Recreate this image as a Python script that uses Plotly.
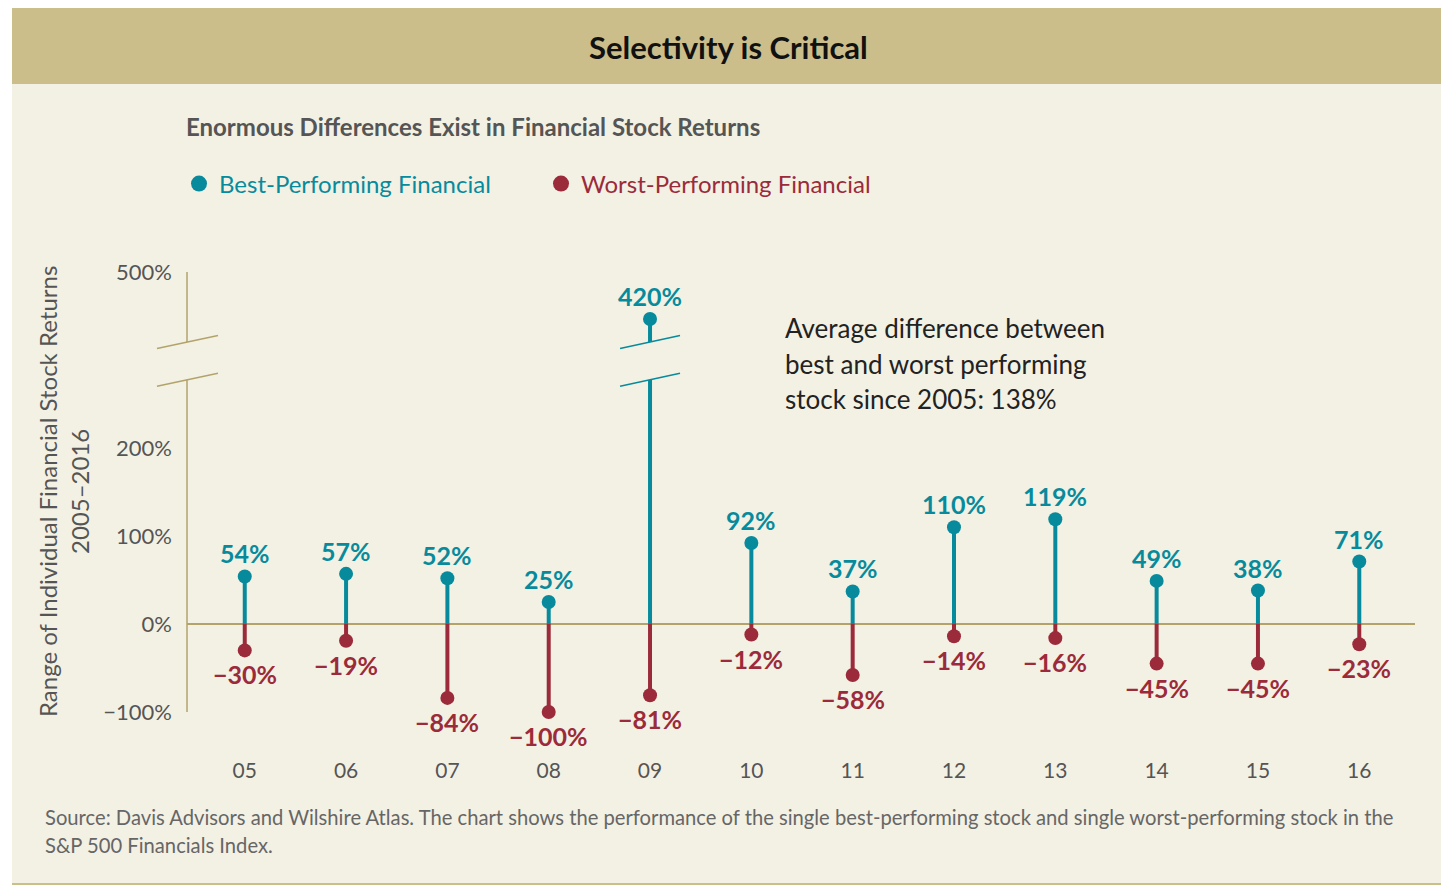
import plotly.graph_objects as go

# data
years = ["05", "06", "07", "08", "09", "10", "11", "12", "13", "14", "15", "16"]
best = [54, 57, 52, 25, 420, 92, 37, 110, 119, 49, 38, 71]
worst = [-30, -19, -84, -100, -81, -12, -58, -14, -16, -45, -45, -23]
tick_vals = [-100, 0, 100, 200, 500]
tick_text = ["\u2212100%", "0%", "100%", "200%", "500%"]

TEAL = "#078b9c"
RED = "#9b2b3a"
TAN = "#cbbe8a"
AXIS = "#b3a36b"
CREAM = "#f3f1e4"
GRAY = "#555555"
FONT = "Lato"

# page is rendered with an 8px body margin
OFF = 8
W, H = 1449, 885
PL, PR, PT, PB = 187, 1415, 272, 712  # plot area in page pixels


def PX(x):
    return (x - PL) / (PR - PL)


def PY(y):
    return (PB - y) / (PB - PT)


# broken axis: above 200% the scale is squeezed to 2/3
def squash(v):
    return v if v <= 200 else 200 + (v - 200) * 2 / 3


# where the break sits on the squashed scale
BREAK_LO, BREAK_HI = 277.5, 320.5
SLASH_RISE = 7.4  # half the slash rise across its width


def pct(v):
    return ("\u2212" if v < 0 else "") + f"{abs(v)}%"


xs = list(range(len(years)))
best_y = [squash(v) for v in best]
worst_y = [squash(v) for v in worst]

fig = go.Figure()

# stems
for vals, color in [(best_y, TEAL), (worst_y, RED)]:
    sx, sy = [], []
    for x, y in zip(xs, vals):
        sx += [x, x, None]
        sy += [0, y, None]
    fig.add_trace(go.Scatter(x=sx, y=sy, mode="lines", line=dict(color=color, width=4),
                             showlegend=False, hoverinfo="skip", cliponaxis=False))

# end markers
for vals, color in [(best_y, TEAL), (worst_y, RED)]:
    fig.add_trace(go.Scatter(x=xs, y=vals, mode="markers", marker=dict(color=color, size=14),
                             showlegend=False, cliponaxis=False))

# legend entries
for name, color in [("Best-Performing Financial", TEAL), ("Worst-Performing Financial", RED)]:
    fig.add_trace(go.Scatter(x=[None], y=[None], mode="markers", marker=dict(color=color, size=17),
                             name=f'<span style="color:{color}">{name}</span>'))

# value labels
for x, v, y in zip(xs, best, best_y):
    fig.add_annotation(x=x, y=y, text=f"<b>{pct(v)}</b>", showarrow=False, yanchor="bottom",
                       yshift=6, font=dict(family=FONT, size=25, color=TEAL))
for x, v, y in zip(xs, worst, worst_y):
    fig.add_annotation(x=x, y=y, text=f"<b>{pct(v)}</b>", showarrow=False, yanchor="top",
                       yshift=-7, font=dict(family=FONT, size=25, color=RED))

shapes = []
# banner, white edge, bottom rule
shapes.append(dict(type="rect", xref="paper", yref="paper", x0=PX(12), x1=PX(1470),
                   y0=PY(84), y1=PY(-10), fillcolor=TAN, line_width=0, layer="below"))
shapes.append(dict(type="rect", xref="paper", yref="paper", x0=PX(0), x1=PX(12),
                   y0=PY(900), y1=PY(-10), fillcolor="white", line_width=0, layer="below"))
shapes.append(dict(type="line", xref="paper", yref="paper", x0=PX(12), x1=PX(1470),
                   y0=PY(884), y1=PY(884), line=dict(color=TAN, width=2)))

# y axis line with break
shapes.append(dict(type="line", xref="paper", yref="y", x0=0, x1=0, y0=-100, y1=BREAK_LO,
                   line=dict(color=AXIS, width=1.5)))
shapes.append(dict(type="line", xref="paper", yref="y", x0=0, x1=0, y0=BREAK_HI, y1=400,
                   line=dict(color=AXIS, width=1.5)))
for b in (BREAK_LO, BREAK_HI):
    shapes.append(dict(type="line", xref="paper", yref="y", x0=PX(157), x1=PX(218),
                       y0=b - SLASH_RISE, y1=b + SLASH_RISE, line=dict(color=AXIS, width=1.5)))

# break on the 2009 stem
i09 = years.index("09")
half = 0.296
k = SLASH_RISE / half
w = 0.06
path = (f"M {i09 - w},{BREAK_LO - k * w} L {i09 + w},{BREAK_LO + k * w} "
        f"L {i09 + w},{BREAK_HI + k * w} L {i09 - w},{BREAK_HI - k * w} Z")
shapes.append(dict(type="path", xref="x", yref="y", path=path, fillcolor=CREAM,
                   line_width=0, layer="above"))
for b in (BREAK_LO, BREAK_HI):
    shapes.append(dict(type="line", xref="x", yref="y", x0=i09 - half, x1=i09 + half,
                       y0=b - SLASH_RISE, y1=b + SLASH_RISE, line=dict(color=TEAL, width=1.5),
                       layer="above"))

annotations = [
    dict(text="<b>Selectivity is Critical</b>", x=PX(728), y=PY(47),
         font=dict(family=FONT, size=31, color="#111111")),
    dict(text="<b>Enormous Differences Exist in Financial Stock Returns</b>", x=PX(184),
         xanchor="left", y=PY(127), font=dict(family=FONT, size=24, color=GRAY)),
    dict(text="Range of Individual Financial Stock Returns", x=PX(47), y=0.5,
         textangle=-90, font=dict(family=FONT, size=24, color=GRAY)),
    dict(text="2005\u20132016", x=PX(79), y=0.5,
         textangle=-90, font=dict(family=FONT, size=24, color=GRAY)),
]
note = ["Average difference between", "best and worst performing", "stock since 2005: 138%"]
for j, line in enumerate(note):
    annotations.append(dict(text=line, x=PX(783), xanchor="left", y=PY(328 + 35.5 * j),
                            font=dict(family=FONT, size=26, color="#222222")))
source = ["Source: Davis Advisors and Wilshire Atlas. The chart shows the performance of the single "
          "best-performing stock and single worst-performing stock in the",
          "S&P 500 Financials Index."]
for j, line in enumerate(source):
    annotations.append(dict(text=line, x=PX(43), xanchor="left", y=PY(817 + 28 * j),
                            font=dict(family=FONT, size=20.2, color="#666666")))
for a in annotations:
    a.update(xref="paper", yref="paper", showarrow=False, yanchor="middle")
    a.setdefault("xanchor", "center")
    fig.add_annotation(**a)

fig.update_layout(
    width=W - OFF, height=H - OFF,
    margin=dict(l=PL - OFF, r=W - PR, t=PT - OFF, b=H - PB),
    paper_bgcolor=CREAM, plot_bgcolor=CREAM,
    font=dict(family=FONT, color=GRAY),
    shapes=shapes,
    showlegend=True,
    legend=dict(orientation="h", x=PX(179), xanchor="left", y=PY(184), yanchor="middle",
                entrywidth=317, entrywidthmode="pixels", font=dict(family=FONT, size=24),
                bgcolor="rgba(0,0,0,0)", itemclick=False),
)
fig.update_xaxes(range=[-0.57, 11.55], tickvals=xs, ticktext=years, showgrid=False, zeroline=False,
                 showline=False, ticks="", ticklabelstandoff=44,
                 tickfont=dict(family=FONT, size=21, color=GRAY))
fig.update_yaxes(range=[-100, 400], tickvals=[squash(v) for v in tick_vals], ticktext=tick_text,
                 showgrid=False, zeroline=True, zerolinecolor=AXIS, zerolinewidth=1.5,
                 showline=False, ticks="", ticklabelstandoff=14,
                 tickfont=dict(family=FONT, size=22, color=GRAY))

fig.write_html("out.html")
